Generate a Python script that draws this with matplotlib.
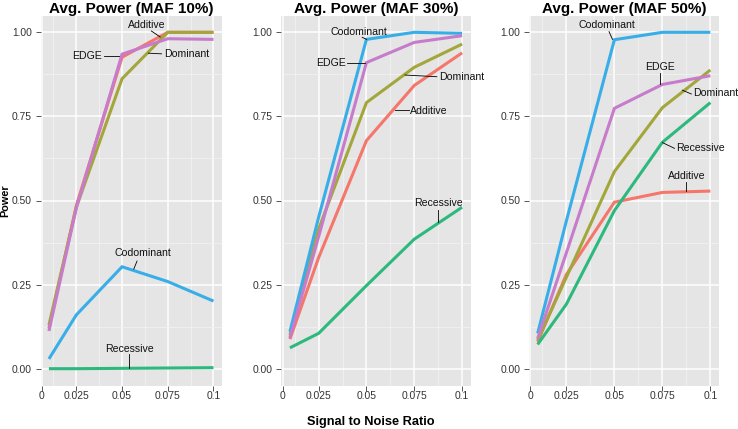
import matplotlib
matplotlib.use("Agg")
import matplotlib.pyplot as plt

plt.rcParams['font.family'] = ['Liberation Sans', 'DejaVu Sans']

# ---------------- data ----------------
snr = [0.01, 0.025, 0.05, 0.075, 0.1]

series_names = ["Additive", "Dominant", "Recessive", "Codominant", "EDGE"]
series_colors = ["#F5766B", "#A3A63A", "#2DB97D", "#38AEE8", "#C77BCB"]

# MAF 10%
additive_10 = [0.120, 0.485, 0.926, 1.000, 1.000]
dominant_10 = [0.130, 0.480, 0.862, 1.000, 1.000]
recessive_10 = [0.000, 0.000, 0.001, 0.002, 0.003]
codominant_10 = [0.029, 0.160, 0.303, 0.259, 0.201]
edge_10 = [0.112, 0.478, 0.935, 0.981, 0.979]

# MAF 30%
additive_30 = [0.088, 0.330, 0.678, 0.842, 0.939]
dominant_30 = [0.100, 0.415, 0.791, 0.896, 0.965]
recessive_30 = [0.062, 0.105, 0.247, 0.385, 0.480]
codominant_30 = [0.110, 0.450, 0.979, 1.000, 0.997]
edge_30 = [0.092, 0.392, 0.910, 0.970, 0.990]

# MAF 50%
additive_50 = [0.080, 0.280, 0.495, 0.524, 0.528]
dominant_50 = [0.085, 0.272, 0.586, 0.776, 0.888]
recessive_50 = [0.072, 0.192, 0.470, 0.673, 0.791]
codominant_50 = [0.105, 0.440, 0.978, 1.000, 1.000]
edge_50 = [0.090, 0.345, 0.774, 0.845, 0.871]

panel_titles = ["Avg. Power (MAF 10%)", "Avg. Power (MAF 30%)", "Avg. Power (MAF 50%)"]
panel_series = [
    [additive_10, dominant_10, recessive_10, codominant_10, edge_10],
    [additive_30, dominant_30, recessive_30, codominant_30, edge_30],
    [additive_50, dominant_50, recessive_50, codominant_50, edge_50],
]

x_tick_labels = ["0", "0.025", "0.05", "0.075", "0.1"]
y_tick_labels = ["0.00", "0.25", "0.50", "0.75", "1.00"]

# labels: (text, text_x, text_y, line_x0, line_y0, line_x1, line_y1)
panel_labels = [
    [("Additive", 0.0633, 1.023, 0.0660, 1.004, 0.0709, 0.986),
     ("EDGE", 0.0310, 0.930, 0.0403, 0.9295, 0.0482, 0.9295),
     ("Dominant", 0.0852, 0.935, 0.0644, 0.938, 0.0716, 0.936),
     ("Codominant", 0.0615, 0.345, 0.0582, 0.320, 0.0564, 0.296),
     ("Recessive", 0.0539, 0.059, 0.0537, 0.043, 0.0537, 0.003)],
    [("Codominant", 0.0459, 1.000, 0.0478, 0.985, 0.0501, 0.979),
     ("EDGE", 0.0314, 0.910, 0.0401, 0.910, 0.0492, 0.910),
     ("Dominant", 0.1000, 0.868, 0.0702, 0.873, 0.0868, 0.868),
     ("Additive", 0.0826, 0.7675, 0.0650, 0.769, 0.0723, 0.769),
     ("Recessive", 0.0877, 0.494, 0.0874, 0.471, 0.0874, 0.435)],
    [("Codominant", 0.0462, 1.0217, 0.0472, 1.002, 0.0490, 0.979),
     ("EDGE", 0.0738, 0.898, 0.0739, 0.880, 0.0739, 0.845),
     ("Dominant", 0.1026, 0.821, 0.0854, 0.828, 0.0901, 0.8166),
     ("Recessive", 0.0947, 0.6575, 0.0751, 0.672, 0.0813, 0.655),
     ("Additive", 0.0877, 0.573, 0.0875, 0.556, 0.0875, 0.528)],
]

# ---------------- layout ----------------
W, H = 738, 429
fig = plt.figure(figsize=(W / 100, H / 100), dpi=100)

panel_px = [(40.7, 221.7), (281.3, 470.7), (529.0, 719.0)]
top_px, bottom_px = 15.5, 385.5

x_ticks = [0.0062, 0.025, 0.05, 0.075, 0.1]
x_minor = [0.0125, 0.0375, 0.0625, 0.0875]
y_ticks = [0.0, 0.25, 0.5, 0.75, 1.0]
y_minor = [0.125, 0.375, 0.625, 0.875]

text_col = "#333333"

for i in range(3):
    l, r = panel_px[i]
    ax = fig.add_axes([l / W, 1 - bottom_px / H, (r - l) / W, (bottom_px - top_px) / H])
    ax.set_facecolor("#E5E5E5")
    for s in ax.spines.values():
        s.set_visible(False)
    ax.set_xlim(0.0055, 0.1045)
    ax.set_ylim(-0.05, 1.05)
    ax.set_xticks(x_ticks)
    ax.set_xticklabels(x_tick_labels)
    ax.set_yticks(y_ticks)
    ax.set_yticklabels(y_tick_labels)
    ax.set_xticks(x_minor, minor=True)
    ax.set_yticks(y_minor, minor=True)
    ax.set_axisbelow(True)
    ax.grid(which="major", color="white", lw=1.1)
    ax.grid(which="minor", color="#F2F2F2", lw=0.6)
    ax.tick_params(which="minor", length=0)
    ax.tick_params(which="major", length=3.3, width=0.7, color="#555555",
                   labelsize=7.4, labelcolor=text_col)
    ax.tick_params(axis="x", pad=1.0)
    ax.tick_params(axis="y", pad=3.0)

    for vals, name, col in zip(panel_series[i], series_names, series_colors):
        ax.plot(snr, vals, color=col, lw=2.2, solid_joinstyle="miter",
                solid_capstyle="butt", label=name)

    for (txt, tx, ty, x0, y0, x1, y1) in panel_labels[i]:
        ax.plot([x0, x1], [y0, y1], color="black", lw=0.6, clip_on=False)
        ax.text(tx, ty, txt, ha="center", va="center", fontsize=7.6,
                color="#111111", clip_on=False)

    ax.text(0.5, 1 + 3.0 / (bottom_px - top_px), panel_titles[i],
            transform=ax.transAxes, ha="center", va="baseline",
            fontsize=11, fontweight="bold")

fig.text(371 / W, 4.5 / H, "Signal to Noise Ratio", ha="center", va="baseline",
         fontsize=9.2, fontweight="bold")
fig.text(5 / W, 1 - 200.5 / H, "Power", rotation=90, ha="center", va="center",
         fontsize=7.8, fontweight="bold")

fig.savefig("out.png", dpi=100)
